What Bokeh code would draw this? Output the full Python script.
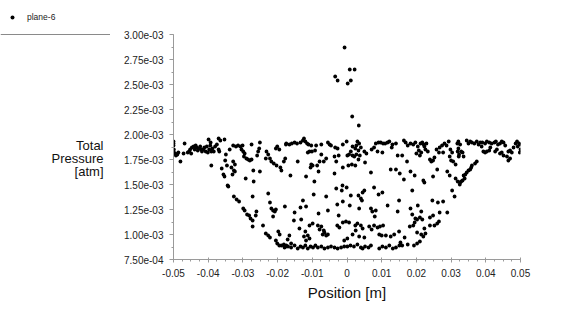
from bokeh.plotting import figure
from bokeh.layouts import row
from bokeh.models import (FixedTicker, CustomJSTickFormatter, Label, Legend,
                          LegendItem, Arrow)
from bokeh.embed import file_html
from bokeh.resources import INLINE

# Position in mm, total pressure in 1e-3 atm
# left part of the upper band and start of the left wall
xa = [-50.0, -50.0, -50.0, -49.9, -50.0, -49.5, -48.9, -48.6, -49.3, -48.0,
      -46.8, -47.1, -45.9, -45.5, -44.9, -45.2, -44.7, -44.2, -43.9, -43.6,
      -43.3, -43.0, -42.6, -42.3, -42.0, -41.8, -41.4, -41.1, -40.7, -40.4,
      -40.1, -39.7, -39.4, -39.1, -39.9, -39.3, -38.8, -38.4, -38.0, -37.5,
      -37.0, -36.5, -37.0, -36.8, -35.3, -39.1, -34.9, -35.1, -36.1, -35.6,
      -35.3, -34.4, -34.6]
ya = [1.93, 1.91, 1.89, 1.85, 1.83, 1.81, 1.80, 1.82, 1.79, 1.73,
      1.91, 1.81, 1.82, 1.83, 1.81, 1.85, 1.87, 1.88, 1.85, 1.89,
      1.87, 1.84, 1.86, 1.88, 1.85, 1.83, 1.85, 1.87, 1.83, 1.88,
      1.82, 1.85, 1.89, 1.83, 1.95, 1.92, 1.86, 1.83, 1.88, 1.90,
      1.96, 1.94, 1.85, 1.83, 1.95, 1.69, 1.80, 1.74, 1.66, 1.60,
      1.58, 1.49, 1.69]

xb = [-32.8, -32.0, -31.4, -30.7, -30.1, -30.4, -29.9, -29.5, -29.7, -29.0,
      -28.5, -28.0, -27.5, -27.5, -25.1, -25.6, -25.9, -25.3, -23.2, -22.7,
      -23.4, -22.2, -21.8, -21.1, -20.5, -20.1, -19.5, -20.3, -19.2, -18.9,
      -18.2, -17.8, -17.6, -33.8, -32.8, -32.3, -33.3, -32.6, -32.3, -33.0,
      -29.2, -26.9, -27.0, -25.1, -34.2, -32.6, -31.8, -31.1, -29.9, -29.5,
      -28.8, -28.2, -27.8, -27.2, -27.2, -26.1, -26.3, -27.2, -22.7, -22.2,
      -21.8, -21.3, -20.8, -20.5, -21.3, -17.9, -24.2, -23.4, -22.7, -22.2,
      -19.8, -19.4, -20.5, -20.1, -19.5, -18.9, -18.2, -17.6]
yb = [1.89, 1.88, 1.89, 1.88, 1.89, 1.85, 1.83, 1.81, 1.78, 1.76,
      1.75, 1.74, 1.75, 1.90, 1.92, 1.83, 1.79, 1.86, 1.83, 1.80,
      1.76, 1.76, 1.73, 1.71, 1.86, 1.88, 1.85, 1.69, 1.67, 1.64,
      1.73, 1.76, 1.90, 1.85, 1.73, 1.70, 1.67, 1.64, 1.63, 1.60,
      1.56, 1.53, 1.64, 1.63, 1.48, 1.38, 1.35, 1.33, 1.26, 1.24,
      1.20, 1.19, 1.16, 1.14, 1.08, 1.23, 1.19, 1.38, 1.41, 1.32,
      1.26, 1.24, 1.23, 1.25, 1.18, 1.28, 1.09, 1.01, 0.99, 0.97,
      1.03, 1.00, 0.94, 0.91, 0.89, 0.89, 0.90, 0.88]

xc = [-17.5, -16.6, -15.9, -15.1, -14.4, -13.4, -12.7, -12.4, -12.0, -11.5,
      -11.1, -10.3, -8.9, -7.4, -5.5, -5.0, -4.6, -3.4, -2.7, -1.2,
      -11.3, -10.8, -10.1, -9.2, -7.4, -6.0, -6.7, -7.9, -8.6, -10.3,
      -10.5, -9.9, -8.2, -3.6, -2.4, -3.1, -14.2, -16.3, -11.8, -9.4,
      -3.6, -1.2, -3.1, -9.6, -6.0, -1.5, -12.7, -11.8, -13.4, -15.1,
      -8.2, -5.5, -2.8, -1.2, -2.4, -15.3, -13.2, -9.9, -8.4, -7.9,
      -7.4, -6.7, -6.5, -6.0, -5.5, -7.0, -2.8, -2.2, -1.2, -12.0,
      -11.3, -12.4, -10.8, -11.8, -16.6, -17.1, -16.1, -17.5, -13.7, -10.8]
yc = [1.91, 1.90, 1.91, 1.92, 1.91, 1.92, 1.94, 1.96, 1.93, 1.91,
      1.90, 1.89, 1.89, 1.90, 1.92, 1.90, 1.89, 1.87, 1.86, 1.90,
      1.82, 1.83, 1.83, 1.84, 1.80, 1.76, 1.73, 1.73, 1.69, 1.70,
      1.67, 1.69, 1.63, 1.78, 1.79, 1.73, 1.73, 1.59, 1.58, 1.53,
      1.61, 1.67, 1.46, 1.40, 1.38, 1.44, 1.34, 1.28, 1.27, 1.22,
      1.21, 1.24, 1.30, 1.33, 1.19, 1.14, 1.15, 1.11, 1.09, 1.05,
      1.08, 1.04, 1.02, 0.99, 1.00, 1.00, 1.09, 1.07, 1.12, 1.03,
      0.99, 0.98, 0.96, 0.94, 0.99, 0.95, 0.91, 0.89, 1.06, 1.09]

# bottom band
xg = [-18.0, -17.0, -16.1, -15.1, -14.2, -13.4, -12.7, -12.0, -11.3, -10.5,
      -9.8, -9.1, -8.4, -7.4, -6.5, -5.5, -4.6, -3.6, -2.7, -1.7,
      -0.8, 0.1, 1.0, 2.0, 3.0, 4.0, 4.5, 5.2, 6.2, 6.9,
      9.3, 10.2, 11.2, 12.2, 13.2, 14.1, 15.1]
yg = [0.87, 0.88, 0.87, 0.89, 0.86, 0.88, 0.87, 0.89, 0.86, 0.88,
      0.87, 0.89, 0.87, 0.88, 0.86, 0.87, 0.88, 0.87, 0.86, 0.87,
      0.88, 0.88, 0.89, 0.88, 0.90, 0.87, 0.86, 0.88, 0.87, 0.89,
      0.86, 0.88, 0.87, 0.89, 0.86, 0.87, 0.89]

xd = [-0.1, 3.0, 3.5, 2.7, 2.4, 3.3, 4.0, 1.6, 1.1, 0.6,
      0.1, 1.6, 2.1, 2.7, 3.7, 3.3, 5.0, 5.6, 7.1, 7.8,
      8.3, 9.1, 9.7, 10.4, 11.0, 11.7, 12.2, 13.1, 14.1, 12.9,
      8.8, 10.2, 14.6, 0.4, 1.4, 2.4, 5.2, 6.9, 12.6, 14.1,
      15.2, -1.3, -0.1, 5.0, 4.5, 3.3, 7.8, 9.1, 10.2, 1.1,
      4.0, 0.8, 3.5, 4.3, 6.9, 7.3, 8.3, 8.0, 11.7, 14.6,
      15.0, -0.3, 0.6, 2.4, 3.0, 4.0, 4.5, 6.4, 7.1, 7.8,
      8.8, 9.5, 10.4, 2.5, 1.6, 3.5, 5.0, 0.1, -0.8, 9.3,
      10.0, 11.2, 12.6, 13.6, 15.0]
yd = [1.93, 1.93, 1.91, 1.89, 1.86, 1.84, 1.87, 1.88, 1.83, 1.80,
      1.79, 1.79, 1.78, 1.80, 1.79, 1.75, 1.83, 1.81, 1.85, 1.87,
      1.91, 1.92, 1.92, 1.91, 1.91, 1.92, 1.93, 1.90, 1.91, 1.87,
      1.83, 1.82, 1.79, 1.69, 1.70, 1.69, 1.72, 1.62, 1.65, 1.65,
      1.61, 1.49, 1.47, 1.44, 1.42, 1.39, 1.47, 1.40, 1.42, 1.39,
      1.36, 1.29, 1.26, 1.34, 1.26, 1.23, 1.24, 1.18, 1.29, 1.23,
      1.34, 1.13, 1.12, 1.09, 1.11, 1.09, 1.06, 1.08, 1.05, 1.09,
      1.07, 1.08, 1.09, 1.04, 1.00, 0.98, 0.97, 0.96, 0.94, 1.00,
      0.99, 0.99, 0.98, 1.00, 1.03]

xe = [16.4, 16.9, 17.5, 18.3, 19.1, 19.7, 20.4, 20.7, 21.2, 21.7,
      22.1, 22.3, 22.6, 22.9, 21.4, 20.0, 21.0, 23.3, 23.9, 24.3,
      24.8, 25.2, 25.8, 26.5, 26.7, 27.4, 27.7, 28.1, 28.7, 29.3,
      29.8, 30.3, 29.6, 30.0, 30.6, 31.3, 31.8, 31.9, 32.2, 17.3,
      15.9, 18.3, 19.5, 16.4, 22.0, 22.3, 24.8, 26.0, 28.9, 29.6,
      31.3, 31.9, 32.5, 18.8, 30.3, 31.0, 24.6, 26.2, 27.7, 18.3,
      20.4, 21.4, 18.8, 19.7, 20.2, 21.0, 21.7, 23.9, 24.8, 26.7,
      28.9, 18.1, 19.1, 19.5, 22.3, 23.9, 25.2, 26.0, 26.5, 16.6,
      20.2, 21.4, 22.0, 22.6, 15.4, 15.9, 17.5, 19.3, 20.2, 21.0]
ye = [1.94, 1.92, 1.89, 1.91, 1.90, 1.92, 1.88, 1.84, 1.91, 1.92,
      1.90, 1.88, 1.85, 1.91, 1.82, 1.81, 1.79, 1.83, 1.75, 1.73,
      1.74, 1.77, 1.85, 1.82, 1.87, 1.89, 1.82, 1.91, 1.89, 1.93,
      1.85, 1.82, 1.78, 1.74, 1.73, 1.70, 1.91, 1.83, 1.78, 1.73,
      1.79, 1.63, 1.59, 1.55, 1.54, 1.52, 1.58, 1.65, 1.63, 1.59,
      1.56, 1.53, 1.50, 1.44, 1.44, 1.38, 1.34, 1.32, 1.33, 1.26,
      1.29, 1.23, 1.20, 1.16, 1.15, 1.17, 1.15, 1.17, 1.19, 1.22,
      1.22, 1.08, 1.09, 1.12, 1.06, 1.09, 1.09, 1.11, 1.13, 0.97,
      1.02, 1.00, 0.98, 1.01, 0.92, 0.89, 0.90, 0.89, 0.91, 0.93]

xf = [32.1, 32.6, 32.1, 32.9, 32.3, 33.3, 33.6, 34.5, 35.0, 35.5,
      36.0, 36.7, 37.4, 37.9, 38.4, 38.8, 39.0, 39.8, 40.3, 41.0,
      41.7, 42.5, 42.9, 43.5, 44.1, 44.6, 45.1, 45.6, 39.3, 39.8,
      40.3, 41.0, 41.3, 42.7, 43.2, 44.1, 44.6, 45.1, 46.1, 46.5,
      47.0, 46.5, 47.0, 47.5, 48.0, 48.6, 49.0, 49.2, 49.6, 37.4,
      36.9, 36.0, 35.8, 35.5, 35.0, 34.5, 34.1, 33.6, 33.9, 33.3,
      32.6, 32.9, 50.0, 50.0, 49.8]
yf = [1.93, 1.90, 1.86, 1.83, 1.80, 1.82, 1.78, 1.94, 1.91, 1.93,
      1.92, 1.91, 1.93, 1.90, 1.92, 1.88, 1.92, 1.91, 1.93, 1.92,
      1.91, 1.92, 1.93, 1.90, 1.91, 1.93, 1.92, 1.89, 1.83, 1.82,
      1.83, 1.84, 1.87, 1.83, 1.85, 1.81, 1.82, 1.79, 1.78, 1.74,
      1.76, 1.83, 1.84, 1.82, 1.87, 1.91, 1.93, 1.88, 1.91, 1.73,
      1.71, 1.69, 1.67, 1.65, 1.64, 1.62, 1.60, 1.59, 1.56, 1.54,
      1.52, 1.53, 1.90, 1.85, 1.82]

# spike near the axis
xh = [-0.7, 0.8, 2.2, -3.4, -2.7, 1.1, 0.2, 1.5, 3.4]
yh = [2.87, 2.65, 2.65, 2.58, 2.54, 2.54, 2.51, 2.18, 2.09]

x_ticks = [-0.05, -0.04, -0.03, -0.02, -0.01, 0.0, 0.01, 0.02, 0.03, 0.04, 0.05]
y_ticks = [0.00075, 0.001, 0.00125, 0.0015, 0.00175, 0.002, 0.00225,
           0.0025, 0.00275, 0.003]
y_title_lines = ["Total", "Pressure", "[atm]"]
series_name = "plane-6"

groups_x = [xa, xb, xc, xg, xd, xe, xf, xh]
groups_y = [ya, yb, yc, yg, yd, ye, yf, yh]
xs, ys = [], []
for gx, gy in zip(groups_x, groups_y):
    assert len(gx) == len(gy), (len(gx), len(gy))
    xs += [v / 1000.0 for v in gx]
    ys += [v * 1e-3 for v in gy]

FONT = "Liberation Sans"
GRAY = "#9a9a9a"
H = 324
SIDE_W = 110
TOP_PAD = 34          # empty pixels above the 3.00e-03 tick
FRAME_H = 225         # pixels between 7.50e-04 and 3.00e-03
Y_LO, Y_HI = y_ticks[0], y_ticks[-1]
y_top = Y_HI + TOP_PAD * (Y_HI - Y_LO) / FRAME_H

# ---------- main plot ----------
p = figure(width=575 - SIDE_W, height=H, output_backend="svg",
           toolbar_location=None,
           x_range=(-0.05, 0.05), y_range=(Y_LO, y_top),
           min_border_left=173 - SIDE_W, min_border_right=55,
           min_border_top=0, min_border_bottom=65)
p.outline_line_color = None
p.xgrid.visible = False
p.ygrid.visible = False
p.background_fill_color = "white"
p.border_fill_color = "white"

r = p.scatter(xs, ys, size=3.8, marker="circle", fill_color="black",
              line_color=None)

minor_x = [round(-0.05 + i * 0.0025, 6) for i in range(41)]
minor_y = [0.00075 + i * 0.000125 for i in range(19)]

p.xaxis.ticker = FixedTicker(ticks=x_ticks, minor_ticks=minor_x)
p.yaxis.ticker = FixedTicker(ticks=y_ticks, minor_ticks=minor_y)
p.yaxis.bounds = (Y_LO, Y_HI)

p.xaxis.formatter = CustomJSTickFormatter(code="""
if (Math.abs(tick) < 1e-9) { return "0"; }
return tick.toFixed(2);
""")
p.yaxis.formatter = CustomJSTickFormatter(code="""
const s = tick.toExponential(2);
return s.replace(/e([+-])(\\d)$/, function(m, sg, d) { return "e" + sg + "0" + d; });
""")

for ax in (p.xaxis, p.yaxis):
    ax.axis_line_color = GRAY
    ax.major_tick_line_color = GRAY
    ax.minor_tick_line_color = GRAY
    ax.major_label_text_font = FONT
    ax.major_label_text_font_size = "10px"
    ax.major_label_text_color = "#222222"

p.xaxis.major_tick_in = 2
p.xaxis.major_tick_out = 3
p.xaxis.minor_tick_in = 0
p.xaxis.minor_tick_out = 2
p.xaxis.major_label_standoff = 6
p.xaxis.axis_label = "Position [m]"
p.xaxis.axis_label_text_font = FONT
p.xaxis.axis_label_text_font_size = "15px"
p.xaxis.axis_label_text_font_style = "normal"
p.xaxis.axis_label_text_color = "#111111"
p.xaxis.axis_label_standoff = 4

p.yaxis.major_tick_in = 0
p.yaxis.major_tick_out = 4
p.yaxis.minor_tick_in = 0
p.yaxis.minor_tick_out = 2
p.yaxis.major_label_standoff = 6

# ---------- side panel: legend and y title ----------
# its frame is aligned with the main frame: it spans canvas y 0..259
FB = H - 65  # frame bottom, in canvas pixels from the top
s = figure(width=SIDE_W, height=H, output_backend="svg", toolbar_location=None,
           x_range=(0, SIDE_W), y_range=(0, FB), x_axis_type=None,
           y_axis_type=None, min_border=0, min_border_left=0,
           min_border_right=0, min_border_top=0, min_border_bottom=65)
s.outline_line_color = None
s.xgrid.visible = False
s.ygrid.visible = False
s.background_fill_color = "white"
s.border_fill_color = "white"

for txt, cy in zip(y_title_lines, (145, 158, 171)):
    s.add_layout(Label(x=103, y=FB - cy, x_units="screen", y_units="screen",
                       text=txt, text_align="right", text_baseline="middle",
                       text_font=FONT, text_font_size="13px",
                       text_color="#111111"))

s.add_layout(Arrow(start=None, end=None, x_start=0, y_start=FB - 34,
                   x_end=SIDE_W, y_end=FB - 34, start_units="screen",
                   end_units="screen", line_color="#8a8a8a", line_width=1))

# legend proxy: one point placed outside the side panel's visible range,
# so that only its legend glyph shows
legend_r = s.scatter(x=[-1000.0], y=[-1000.0], size=3.8, marker="circle",
                     fill_color="black", line_color=None)
legend = Legend(items=[LegendItem(label=series_name, renderers=[legend_r])],
                location=(7, FB - 22), padding=0, margin=0, spacing=0,
                glyph_width=10, glyph_height=10, label_height=10,
                label_standoff=10, border_line_alpha=0,
                background_fill_alpha=0, label_text_font=FONT,
                label_text_font_size="8.5px", label_text_color="#222222")
s.add_layout(legend)

layout = row(s, p, spacing=0)
open("out.html", "w").write(file_html(layout, INLINE))
